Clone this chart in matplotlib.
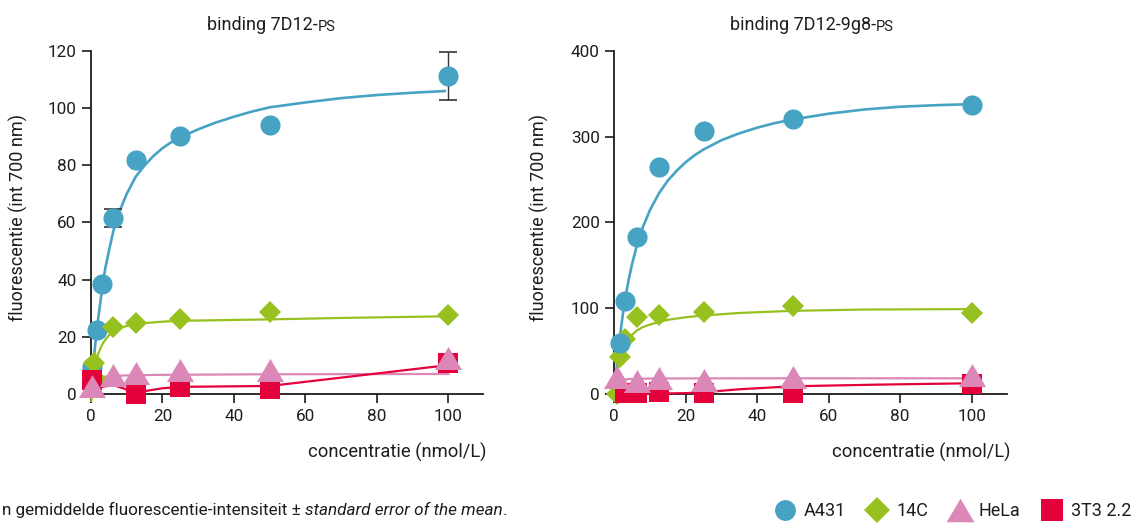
import numpy as np
import matplotlib
matplotlib.use("Agg")
import matplotlib.pyplot as plt
from matplotlib.lines import Line2D

plt.rcParams['font.family'] = ['Roboto', 'DejaVu Sans']

# ---------------- data ----------------
conc = [0.39, 0.78, 1.56, 3.125, 6.25, 12.5, 25, 50, 100]
nan = np.nan

# left panel: binding 7D12-PS
L_A431 = [9.5, nan, 22.3, 38.4, 61.5, 81.7, 90.2, 94.0, 111.2]
L_A431_err = [0, 0, 0, 0, 3.2, 0, 0, 0, 8.3]
L_14C = [nan, 11.0, 5.0, nan, 23.4, 24.8, 26.3, 28.6, 27.6]
L_HeLa = [2.7, nan, nan, nan, 6.5, 7.2, 8.4, 8.4, 12.6]
L_3T3 = [4.9, nan, nan, nan, nan, 0.0, 2.4, 1.8, 10.8]

# right panel: binding 7D12-9g8-PS
R_A431 = [nan, nan, 59.5, 108.5, 183.5, 265, 307, 321, 337]
R_14C = [nan, 0.0, 43.5, 64, 90, 92, 96, 103, 94.5]
R_HeLa = [nan, 20, nan, nan, 15.5, 18.7, 16.3, 20, 22]
R_3T3 = [nan, nan, nan, 1.0, 1.0, 2.0, 1.0, 1.5, 12]

# fitted curves
L_A431_fx = [0, 0.5, 1, 1.56, 2.5, 3.125, 4, 5, 6.25, 8, 10, 12.5, 15, 17.5, 20, 22.5, 25, 30, 35,
             40, 45, 50, 60, 70, 80, 90, 99]
L_A431_fy = [0, 8, 15, 22, 31, 37, 44, 50, 57, 64, 70, 76, 80, 83.3, 86, 88.1, 89.8, 92.6, 95,
             97, 98.8, 100.3, 102, 103.5, 104.6, 105.4, 106]
L_14C_fx = [0, 0.25, 0.5, 1, 1.5, 2, 3, 4, 5, 6.25, 8, 10, 12.5, 15, 20, 25, 35, 50, 70, 100]
L_14C_fy = [-4, 0, 4, 9, 12, 14, 17, 19, 20.5, 22, 23, 23.8, 24.4, 24.8, 25.3, 25.6, 25.8, 26.1, 26.6, 27.2]
L_HeLa_fx = [0, 0.5, 1, 2, 3, 4, 6, 10, 20, 50, 100]
L_HeLa_fy = [0, 2.5, 4, 5.3, 5.8, 6.1, 6.3, 6.5, 6.7, 6.9, 7.0]
L_3T3_fx = [0, 3, 6.25, 9, 12.5, 16, 20, 25, 50, 100]
L_3T3_fy = [0.8, 2.5, 3.1, 2.0, 0.3, 1.2, 2.0, 2.5, 2.8, 10.1]

R_A431_fx = [0, 0.5, 1, 1.56, 2.5, 3.125, 4, 5, 6.25, 8, 10, 12.5, 15, 17.5, 20, 22.5, 25, 30, 35,
             40, 45, 50, 60, 70, 80, 90, 100]
R_A431_fy = [0, 24, 46, 66.5, 96, 112.7, 132.7, 152, 172, 194.7, 214.7, 234, 249, 260.5, 270.4,
             278.5, 285.2, 296, 304, 310.6, 316, 320.2, 326.9, 331.8, 335, 336.8, 338]
R_14C_fx = [0, 0.25, 0.5, 1, 1.56, 2, 3, 4, 5, 6.25, 8, 10, 12.5, 15, 20, 25, 35, 50, 70, 100]
R_14C_fy = [-15, 0, 12, 28, 40, 46, 56, 63, 69, 74, 78, 81, 84, 86.5, 89.5, 91.5, 94.5, 97, 98.5, 99]
R_HeLa_fx = [0, 0.5, 1, 2, 4, 10, 25, 50, 100]
R_HeLa_fy = [10, 12, 14, 16, 17.5, 18, 18.2, 18.3, 18.3]
R_3T3_fx = [0.39, 6.25, 12.5, 20, 25, 35, 50, 75, 100]
R_3T3_fy = [1, 0.5, 0.5, 1, 2, 5.5, 9, 11, 12.5]

labels = ['A431', '14C', 'HeLa', '3T3 2.2']
titles = ['binding 7D12-', 'binding 7D12-9g8-']
ylabel = 'fluorescentie (int 700 nm)'
xlabel = 'concentratie (nmol/L)'
L_yticks = [0, 20, 40, 60, 80, 100, 120]
R_yticks = [0, 100, 200, 300, 400]
xticks = [0, 20, 40, 60, 80, 100]

# ---------------- style ----------------
BLUE = '#47a3c3'
GREEN = '#96c11f'
PINK = '#db87b8'
RED = '#e4003a'
TXT = '#1d1d1b'
tri = [(-1, -0.85), (1, -0.85), (0, 0.85)]

W, H = 1136, 523
fig = plt.figure(figsize=(W / 100, H / 100), dpi=100)


def px_axes(x0, x1, y0, y1):
    return fig.add_axes([x0 / W, 1 - y1 / H, (x1 - x0) / W, (y1 - y0) / H])


axL = px_axes(83, 483, 51, 401.7)
axR = px_axes(606, 1007, 51, 401.7)

c = np.array(conc)


def draw(ax, a, g, h, r, fits, order, err=None):
    (afx, afy), (gfx, gfy), (hfx, hfy), (rfx, rfy) = fits
    ax.plot(afx, afy, color=BLUE, lw=1.9, zorder=2, solid_joinstyle='round')
    ax.plot(gfx, gfy, color=GREEN, lw=1.6, zorder=2, solid_joinstyle='round')
    ax.plot(hfx, hfy, color=PINK, lw=1.6, zorder=2, solid_joinstyle='round')
    ax.plot(rfx, rfy, color=RED, lw=1.6, zorder=2, solid_joinstyle='round')
    if err is not None:
        e = np.array(err)
        m = e > 0
        ax.errorbar(c[m], np.array(a)[m], yerr=e[m], fmt='none', ecolor='#333333',
                    elinewidth=1.0, capsize=6.5, capthick=1.2, zorder=3, clip_on=False)
    specs = {
        'a': (a, dict(marker='o', ms=14.5, color=BLUE)),
        'g': (g, dict(marker='D', ms=10.8, color=GREEN)),
        'h': (h, dict(marker=tri, ms=19.5, color=PINK)),
        'r': (r, dict(marker='s', ms=15, color=RED)),
    }
    for z, k in enumerate(order):
        vals, kw = specs[k]
        ax.plot(c, vals, ls='none', mew=0, zorder=4 + z, clip_on=False, **kw)


draw(axL, L_A431, L_14C, L_HeLa, L_3T3,
     [(L_A431_fx, L_A431_fy), (L_14C_fx, L_14C_fy), (L_HeLa_fx, L_HeLa_fy), (L_3T3_fx, L_3T3_fy)],
     order=['a', 'g', 'r', 'h'], err=L_A431_err)
draw(axR, R_A431, R_14C, R_HeLa, R_3T3,
     [(R_A431_fx, R_A431_fy), (R_14C_fx, R_14C_fy), (R_HeLa_fx, R_HeLa_fy), (R_3T3_fx, R_3T3_fy)],
     order=['g', 'a', 'r', 'h'])

axL.set_xlim(-2.24, 109.7)
axL.set_ylim(-2.7, 120)
axR.set_xlim(-2.32, 109.9)
axR.set_ylim(-9.0, 400)
axL.set_yticks(L_yticks)
axR.set_yticks(R_yticks)

for ax in (axL, axR):
    ax.set_xticks(xticks)
    ax.spines['top'].set_visible(False)
    ax.spines['right'].set_visible(False)
    ax.spines['left'].set_position(('data', 0))
    ax.spines['bottom'].set_position(('data', 0))
    for s in ('left', 'bottom'):
        ax.spines[s].set_linewidth(1.3)
        ax.spines[s].set_color(TXT)
        ax.spines[s].set_zorder(1)
    ax.tick_params(axis='both', direction='out', length=6.5, width=1.2,
                   labelsize=12.3, pad=4, color=TXT, labelcolor=TXT)
    ax.patch.set_visible(False)

# titles with smaller "PS"
for x0, t in ((206.7, titles[0]), (730, titles[1])):
    t1 = fig.text(x0 / W, 1 - 30 / H, t, fontsize=13, color=TXT, va='baseline')
    axL.annotate('PS', xy=(1, 0), xycoords=t1, fontsize=10.5, color=TXT,
                 ha='left', va='bottom')

# axis labels
fig.text(18.5 / W, 1 - 217.5 / H, ylabel, rotation=90, fontsize=13, color=TXT,
         ha='center', va='center')
fig.text(539 / W, 1 - 217.5 / H, ylabel, rotation=90, fontsize=13, color=TXT,
         ha='center', va='center')
fig.text(486 / W, 1 - 458 / H, xlabel, fontsize=13.2, color=TXT, ha='right', va='baseline')
fig.text(1010 / W, 1 - 458 / H, xlabel, fontsize=13.2, color=TXT, ha='right', va='baseline')

# caption
c1 = fig.text(2 / W, 1 - 515 / H, 'n gemiddelde fluorescentie-intensiteit \u00b1 ',
              fontsize=12.3, color=TXT, va='baseline')
c2 = axL.annotate('standard error of the mean', xy=(1, 0), xycoords=c1, fontsize=12.3,
                  color=TXT, style='italic', ha='left', va='bottom')
axL.annotate('.', xy=(1, 0), xycoords=c2, fontsize=12.3, color=TXT, ha='left', va='bottom')

# legend
handles = [
    Line2D([], [], ls='none', marker='o', ms=15, mew=0, color=BLUE),
    Line2D([], [], ls='none', marker='D', ms=13.5, mew=0, color=GREEN),
    Line2D([], [], ls='none', marker=tri, ms=20, mew=0, color=PINK),
    Line2D([], [], ls='none', marker='s', ms=15.5, mew=0, color=RED),
]
leg = fig.legend(handles, labels, loc='center left', bbox_to_anchor=(772 / W, 1 - 511.5 / H),
                 ncol=4, frameon=False, fontsize=13, handlelength=1.4, handletextpad=0.35,
                 columnspacing=1.05, borderpad=0, borderaxespad=0)
for t in leg.get_texts():
    t.set_color(TXT)

fig.savefig('out.png', dpi=100)
